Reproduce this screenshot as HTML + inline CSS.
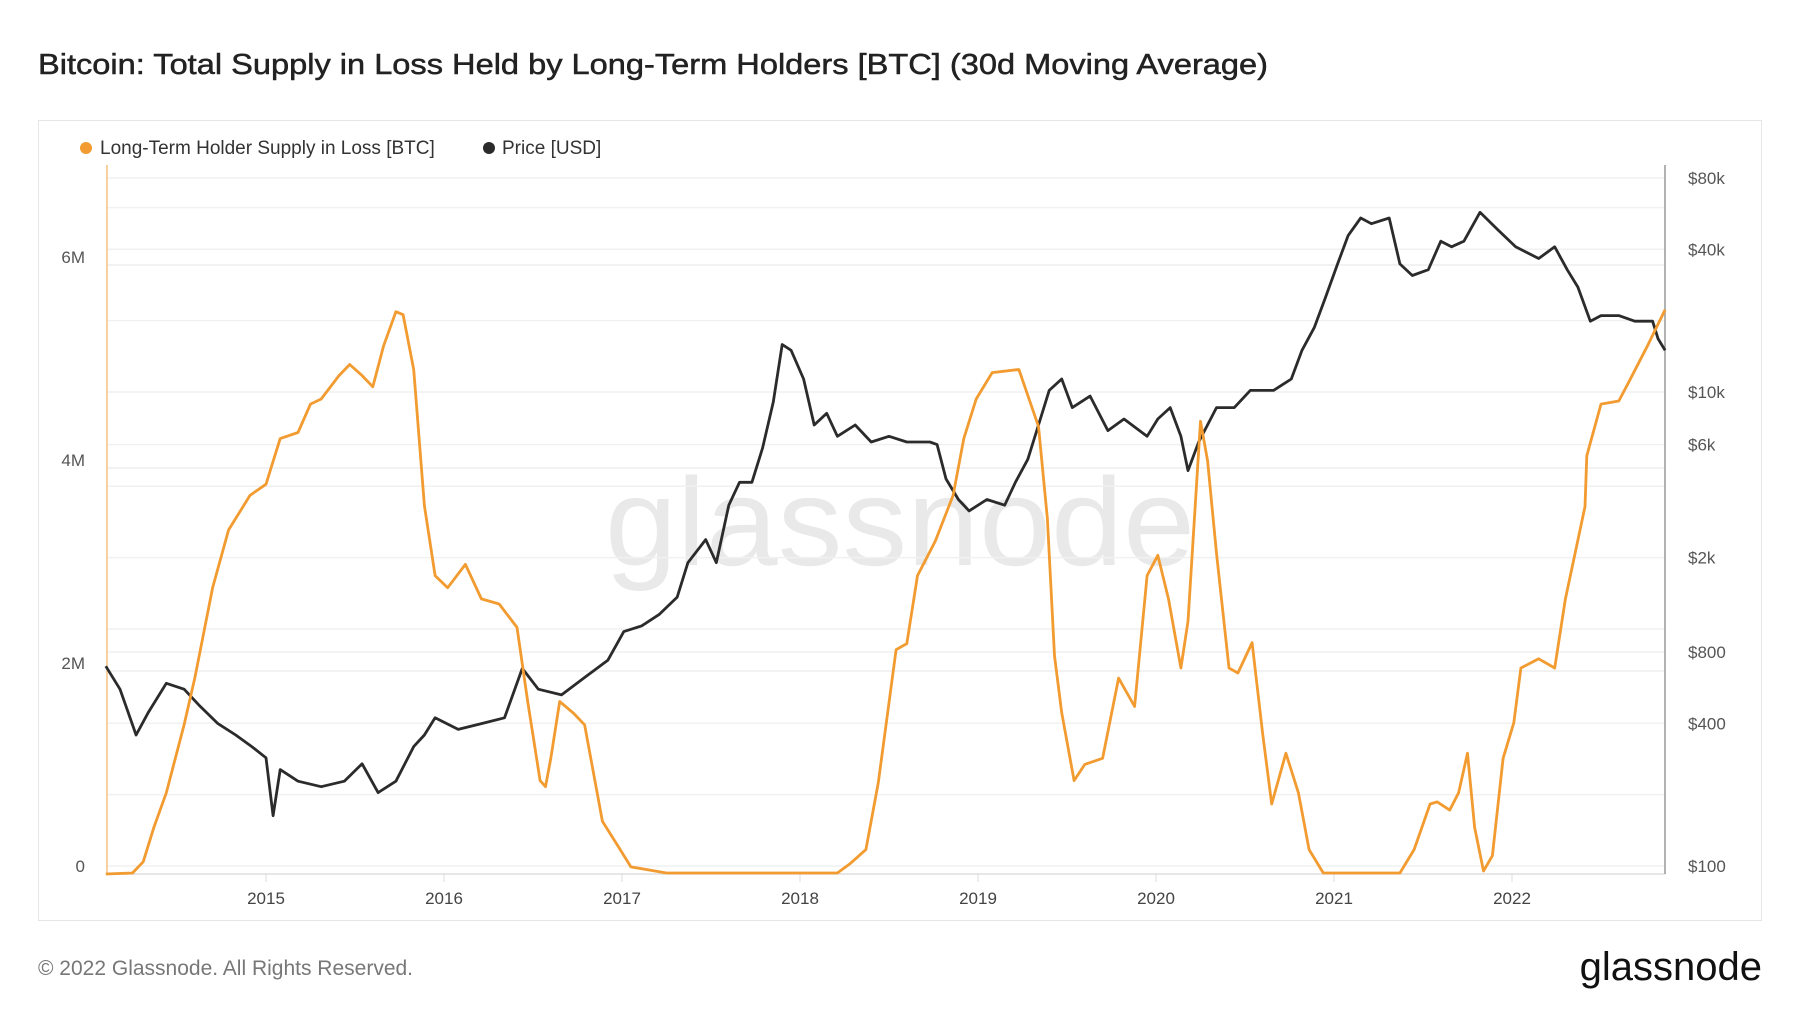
<!DOCTYPE html>
<html><head><meta charset="utf-8"><style>
body{margin:0;background:#fff;}
svg{display:block;font-family:"Liberation Sans",sans-serif;}
</style></head><body>
<svg id="chart" width="1800" height="1013" viewBox="0 0 1800 1013">
<text x="38" y="74" font-size="29" fill="#222" stroke="#222" stroke-width="0.5" textLength="1230" lengthAdjust="spacingAndGlyphs">Bitcoin: Total Supply in Loss Held by Long-Term Holders [BTC] (30d Moving Average)</text>
<rect x="38.5" y="120.5" width="1723" height="800" fill="#fff" stroke="#e6e6e6"/>
<text x="900" y="565" font-size="125" fill="#e9e9e9" text-anchor="middle" textLength="590" lengthAdjust="spacingAndGlyphs">glassnode</text>
<g id="grid"></g>
<g id="axes"></g>
<g id="series"></g>
<g>
<circle cx="86" cy="148" r="6" fill="#f29b30"/>
<text x="100" y="154" font-size="19" fill="#333">Long-Term Holder Supply in Loss [BTC]</text>
<circle cx="489" cy="148" r="6" fill="#2b2b2b"/>
<text x="502" y="154" font-size="19" fill="#333">Price [USD]</text>
</g>
<text x="38" y="975" font-size="21" fill="#777">© 2022 Glassnode. All Rights Reserved.</text>
<text x="1762" y="980" font-size="40" fill="#111" text-anchor="end">glassnode</text>
</svg>
<script>
const supplyYears=[2014.10,2014.25,2014.31,2014.37,2014.44,2014.54,2014.60,2014.70,2014.79,2014.91,2015.00,2015.08,2015.18,2015.25,2015.31,2015.41,2015.47,2015.54,2015.60,2015.66,2015.73,2015.77,2015.83,2015.89,2015.95,2016.02,2016.12,2016.21,2016.31,2016.41,2016.47,2016.54,2016.57,2016.60,2016.65,2016.73,2016.79,2016.89,2016.99,2017.05,2017.25,2018.21,2018.28,2018.37,2018.44,2018.54,2018.60,2018.66,2018.76,2018.86,2018.92,2018.99,2019.08,2019.23,2019.34,2019.39,2019.43,2019.47,2019.54,2019.60,2019.70,2019.79,2019.88,2019.95,2020.01,2020.07,2020.14,2020.18,2020.25,2020.29,2020.34,2020.41,2020.46,2020.54,2020.60,2020.65,2020.73,2020.80,2020.86,2020.94,2021.37,2021.45,2021.54,2021.58,2021.65,2021.70,2021.75,2021.79,2021.84,2021.89,2021.95,2022.01,2022.05,2022.15,2022.24,2022.30,2022.41,2022.42,2022.50,2022.60,2022.66,2022.76,2022.86];
const supplyValues=[0,0.01,0.12,0.46,0.80,1.47,1.93,2.82,3.39,3.73,3.84,4.29,4.35,4.63,4.68,4.91,5.02,4.91,4.80,5.20,5.54,5.51,4.97,3.63,2.94,2.82,3.05,2.71,2.66,2.43,1.70,0.92,0.86,1.14,1.70,1.58,1.47,0.52,0.24,0.07,0.01,0.01,0.10,0.24,0.90,2.21,2.27,2.94,3.28,3.73,4.29,4.68,4.94,4.97,4.41,3.50,2.15,1.59,0.92,1.08,1.14,1.93,1.65,2.94,3.14,2.71,2.03,2.49,4.46,4.07,3.16,2.03,1.98,2.28,1.37,0.69,1.19,0.80,0.24,0.01,0.01,0.24,0.69,0.71,0.63,0.80,1.19,0.46,0.03,0.18,1.14,1.49,2.03,2.12,2.03,2.71,3.62,4.12,4.63,4.66,4.86,5.20,5.56];
const priceYears=[2014.10,2014.18,2014.27,2014.34,2014.44,2014.54,2014.63,2014.73,2014.83,2014.92,2015.00,2015.04,2015.08,2015.18,2015.31,2015.44,2015.54,2015.63,2015.73,2015.83,2015.89,2015.95,2016.08,2016.21,2016.34,2016.44,2016.53,2016.66,2016.79,2016.92,2017.01,2017.11,2017.21,2017.31,2017.37,2017.47,2017.53,2017.60,2017.66,2017.73,2017.79,2017.85,2017.90,2017.95,2018.02,2018.08,2018.15,2018.21,2018.31,2018.40,2018.50,2018.60,2018.73,2018.77,2018.82,2018.89,2018.95,2019.05,2019.15,2019.21,2019.28,2019.34,2019.40,2019.47,2019.53,2019.63,2019.73,2019.82,2019.95,2020.01,2020.08,2020.14,2020.18,2020.24,2020.34,2020.44,2020.53,2020.66,2020.76,2020.82,2020.89,2020.95,2021.02,2021.08,2021.15,2021.21,2021.31,2021.37,2021.44,2021.53,2021.60,2021.66,2021.73,2021.82,2021.92,2022.02,2022.15,2022.24,2022.31,2022.37,2022.44,2022.50,2022.60,2022.69,2022.79,2022.82,2022.86];
const priceValues=[697,557,357,446,590,557,472,399,357,319,286,163,255,228,216,228,270,204,228,319,357,422,377,399,422,682,557,527,624,738,975,1031,1153,1363,1905,2383,1905,3330,4160,4160,5810,9080,15870,15000,11350,7260,8130,6500,7260,6150,6500,6150,6150,6000,4300,3520,3150,3520,3330,4160,5200,7260,10160,11350,8590,9610,6870,7690,6500,7690,8590,6500,4660,6150,8590,8590,10160,10160,11350,15000,18750,24800,34700,45800,54200,51300,54200,34700,31000,32800,43300,41000,43300,57300,48400,41000,36600,41000,32800,27700,19900,21000,21000,19900,19900,16800,15000];
const leftTicks=[0,2,4,6];
const leftTickLabels=["0","2M","4M","6M"];
const rightTicks=[100,400,800,2000,6000,10000,40000,80000];
const rightTickLabels=["$100","$400","$800","$2k","$6k","$10k","$40k","$80k"];
const extraGrid=[200,1000,4000,20000,60000];
const xTicks=[2015,2016,2017,2018,2019,2020,2021,2022];

const X0=107,X1=1665,YT=165,YB=874;
const yearPx=178,year0px=266;
function xs(y){return year0px+(y-2015)*yearPx;}
function ysL(v){return YB-v*101.5;}
function ysR(p){return 866-(Math.log10(p)-2)*237;}
const NS="http://www.w3.org/2000/svg";
function mk(tag,parent,attrs){const e=document.createElementNS(NS,tag);for(const k in attrs)e.setAttribute(k,attrs[k]);parent.appendChild(e);return e;}
const grid=document.getElementById('grid'),axes=document.getElementById('axes'),series=document.getElementById('series');
leftTicks.forEach((v,i)=>{
  const y=ysL(v);
  if(i>0){const l=mk('line',grid,{x1:X0,x2:X1,y1:y,y2:y,stroke:'#eeeeee','stroke-width':1.5});
  
  }
  const t=mk('text',axes,{x:85,y:y-2,'font-size':17,fill:'#555','text-anchor':'end'});
  t.textContent=leftTickLabels[i];
  
  
});
rightTicks.concat(extraGrid).forEach(p=>{
  const y=ysR(p);
  const l=mk('line',grid,{x1:X0,x2:X1,y1:y,y2:y,stroke:'#f1f1f1','stroke-width':1.5});
  
  
});
rightTicks.forEach((p,i)=>{
  const t=mk('text',axes,{x:1688,y:ysR(p)+6,'font-size':17,fill:'#555'});
  t.textContent=rightTickLabels[i];
  
  
});
xTicks.forEach(yr=>{
  const x=xs(yr);
  const l=mk('line',axes,{x1:x,x2:x,y1:YB,y2:YB+8,stroke:'#ddd'});
  
  
  const t=mk('text',axes,{x:x,y:904,'font-size':17,fill:'#444','text-anchor':'middle'});
  t.textContent=String(yr);
  
  
});
const ax1=mk('line',axes,{x1:X0,x2:X1,y1:YB,y2:YB,stroke:'#ddd','stroke-width':1.5});


const ax2=mk('line',axes,{x1:X0,x2:X0,y1:YT,y2:YB,stroke:'#f6c27e','stroke-width':1.5});


const ax3=mk('line',axes,{x1:X1,x2:X1,y1:YT,y2:YB,stroke:'#999','stroke-width':1.5});


const pd=priceYears.map((yr,i)=>(i?'L':'M')+xs(yr).toFixed(1)+','+ysR(priceValues[i]).toFixed(1)).join(' ');
const pp=mk('path',series,{d:pd,fill:'none',stroke:'#2b2b2b','stroke-width':2.8,'stroke-linejoin':'round'});


const sd=supplyYears.map((yr,i)=>(i?'L':'M')+xs(yr).toFixed(1)+','+ysL(supplyValues[i]).toFixed(1)).join(' ');
const sp=mk('path',series,{d:sd,fill:'none',stroke:'#f29b30','stroke-width':2.8,'stroke-linejoin':'round'});


</script>
</body></html>
